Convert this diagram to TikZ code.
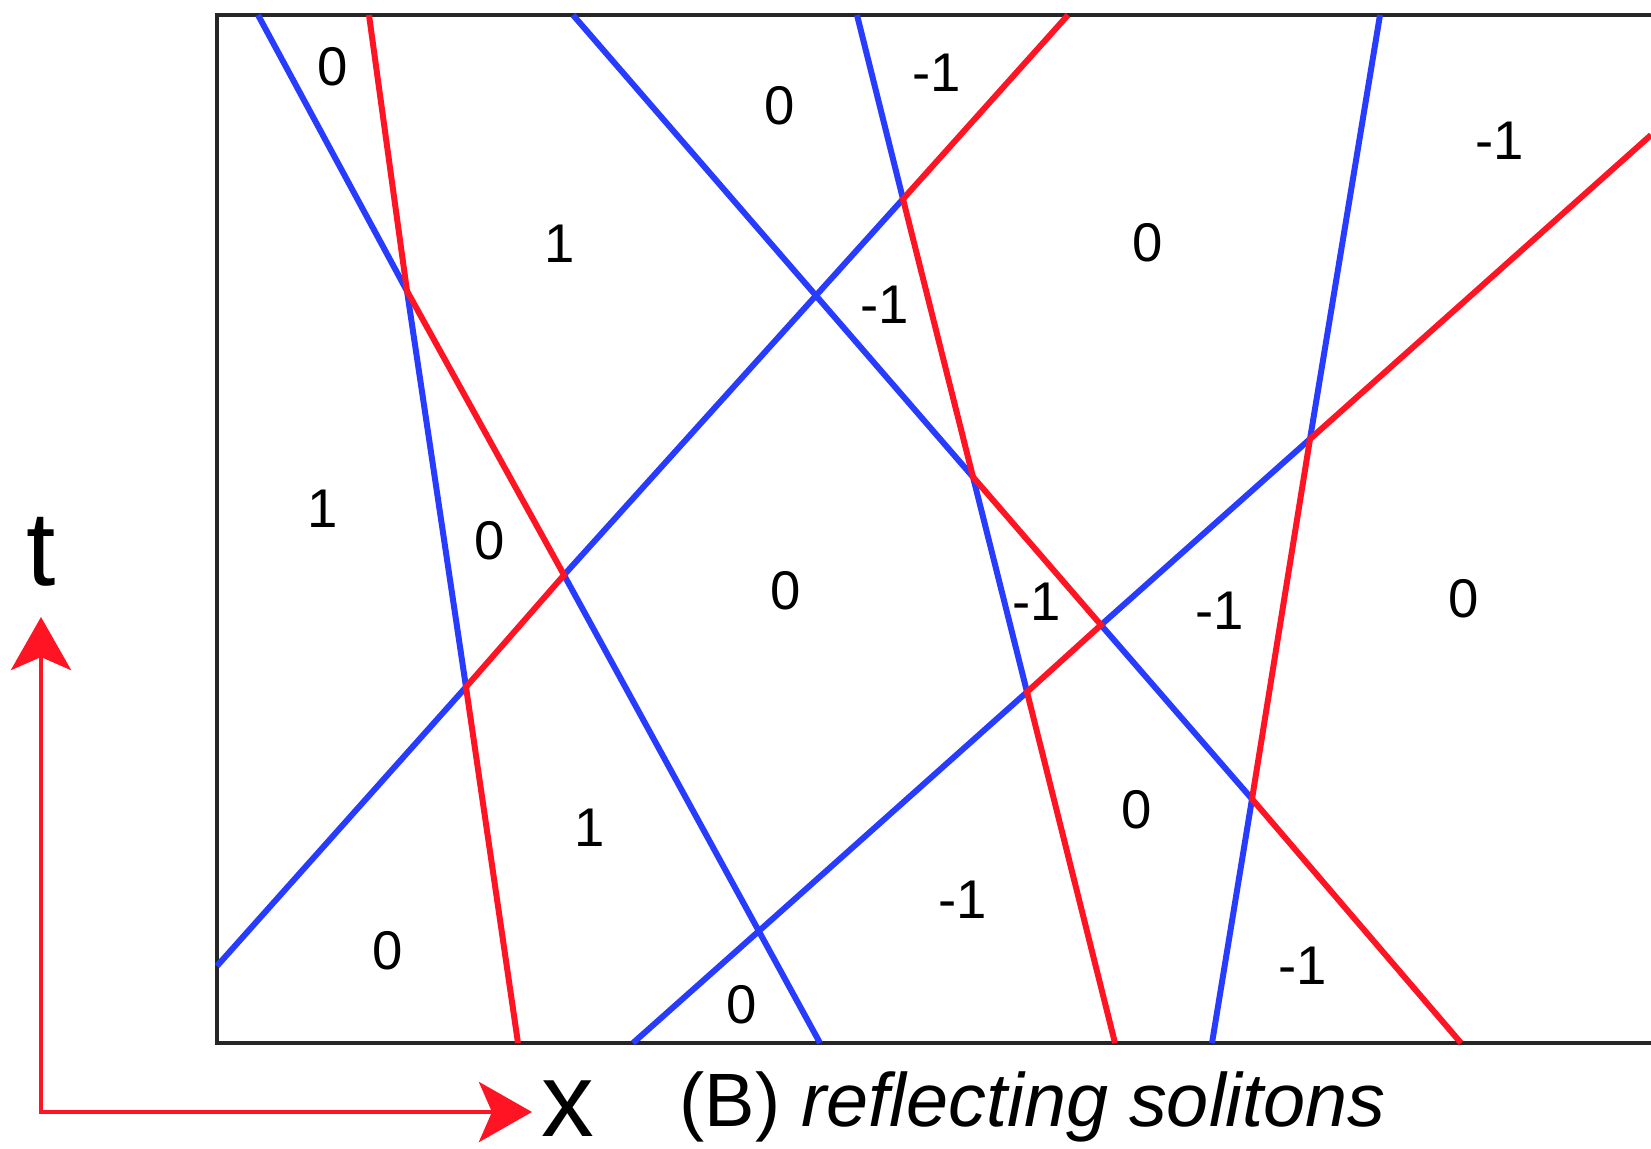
\documentclass[tikz,border=0pt]{standalone}
\usepackage{fontspec}
\setmainfont{Liberation Sans}
\usetikzlibrary{arrows.meta}

\definecolor{solred}{RGB}{255,20,35}
\definecolor{solblue}{RGB}{40,60,255}

\begin{document}
\begin{tikzpicture}[x=0.01cm, y=-0.01cm]
    \tikzset{bsol/.style={draw=solblue, line width=1.7pt}}
    \tikzset{rsol/.style={draw=solred, line width=1.7pt}}
    \tikzset{lab/.style={font=\fontsize{15.5}{18}\selectfont, inner sep=0pt}}
    \tikzset{axtip/.tip={Stealth[length=5.3mm, width=6mm, inset=1.3mm]}}
    \useasboundingbox (0,0) rectangle (1651,1148);

    % FRAME
    \draw[line width=1pt, black!85] (1651,15) -- (217,15) -- (217,1043) -- (1651,1043);

    % END POINTS ON THE FRAME
    \coordinate (Tb1) at (258,15);
    \coordinate (Tr1) at (369,15);
    \coordinate (Tb2) at (573,15);
    \coordinate (Tb3) at (857,15);
    \coordinate (Tr2) at (1068,15);
    \coordinate (Tb4) at (1380,15);
    \coordinate (Rr)  at (1651,135);
    \coordinate (Lb)  at (217,966);
    \coordinate (Br1) at (518,1043);
    \coordinate (Bb1) at (633,1043);
    \coordinate (Bb2) at (820,1043);
    \coordinate (Br2) at (1115,1043);
    \coordinate (Bb3) at (1212,1043);
    \coordinate (Br3) at (1461,1043);

    % COLLISION POINTS
    \coordinate (V1)  at (407,291);
    \coordinate (V2)  at (564,575);
    \coordinate (V3)  at (466,687);
    \coordinate (V6)  at (903,199);
    \coordinate (V7)  at (1027,692);
    \coordinate (V8)  at (973,477);
    \coordinate (V9)  at (1101,625);
    \coordinate (V10) at (1310,439);
    \coordinate (V11) at (1252,799);
    \coordinate (V4)  at (intersection of Tb2--V8 and V2--V6);
    \coordinate (V5)  at (intersection of V2--Bb2 and V7--Bb1);

    % BLUE EDGES
    \draw[bsol] (Tb1) -- (V1) -- (V3) -- (Lb);
    \draw[bsol] (Tb3) -- (V6) -- (V4) -- (V2) -- (V5) -- (Bb2);
    \draw[bsol] (Tb2) -- (V4) -- (V8) -- (V7) -- (V5) -- (Bb1);
    \draw[bsol] (Tb4) -- (V10) -- (V9) -- (V11) -- (Bb3);

    % RED EDGES
    \draw[rsol] (Tr1) -- (V1) -- (V2) -- (V3) -- (Br1);
    \draw[rsol] (Tr2) -- (V6) -- (V8) -- (V9) -- (V7) -- (Br2);
    \draw[rsol] (Rr) -- (V10) -- (V11) -- (Br3);

    % REGION LABELS
    \foreach \px/\py/\val [count=\i] in {333/67/0, 780/106/0, 937/73/-1, 1500/141/-1,
        560/244/1, 1148/243/0, 885/305/-1, 323/509/1, 490/541/0, 786/591/0,
        1037/602/-1, 1220/611/-1, 1464/599/0, 1137/810/0, 590/828/1,
        963/900/-1, 388/951/0, 1303/966/-1, 742/1005/0} {
        \node[lab] (r\i) at (\px,\py) {\val};
    }

    % AXES
    \coordinate (O)  at (41,1112);
    \coordinate (Tt) at (41,617);
    \coordinate (Xt) at (532,1112);
    \draw[draw=solred, line width=1.4pt, axtip-axtip] (Tt) -- (O) -- (Xt);
    \node[font=\fontsize{30}{36}\selectfont, inner sep=0pt, anchor=base] (tl) at (41,585) {t};
    \node[font=\fontsize{30}{36}\selectfont, inner sep=0pt, anchor=base west] (xl) at (541,1136) {x};

    \node[font=\fontsize{21.5}{26}\selectfont, inner sep=0pt, anchor=base west] (cap) at (679,1126)
        {(B) \textit{reflecting solitons}};
\end{tikzpicture}
\end{document}
